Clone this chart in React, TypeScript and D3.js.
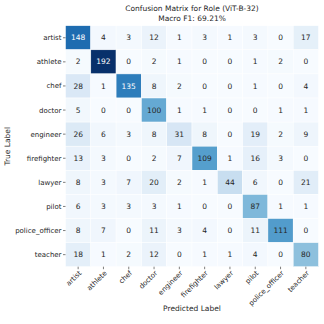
import React from "react";
import * as d3 from "d3";

const labels = ["artist", "athlete", "chef", "doctor", "engineer", "firefighter", "lawyer", "pilot", "police_officer", "teacher"];

const artistRow = [148, 4, 3, 12, 1, 3, 1, 3, 0, 17];
const athleteRow = [2, 192, 0, 2, 1, 0, 0, 1, 2, 0];
const chefRow = [28, 1, 135, 8, 2, 0, 0, 1, 0, 4];
const doctorRow = [5, 0, 0, 100, 1, 1, 0, 0, 1, 1];
const engineerRow = [26, 6, 3, 8, 31, 8, 0, 19, 2, 9];
const firefighterRow = [13, 3, 0, 2, 7, 109, 1, 16, 3, 0];
const lawyerRow = [8, 3, 7, 20, 2, 1, 44, 6, 0, 21];
const pilotRow = [6, 3, 3, 3, 1, 0, 0, 87, 1, 1];
const policeRow = [8, 7, 0, 11, 3, 4, 0, 11, 111, 0];
const teacherRow = [18, 1, 2, 12, 0, 1, 1, 4, 0, 80];

const matrix = [artistRow, athleteRow, chefRow, doctorRow, engineerRow, firefighterRow, lawyerRow, pilotRow, policeRow, teacherRow];

const W = 324;
const H = 324;
const left = 65.5, right = 318.5, top = 25.7, bottom = 266.7;
const font = "'DejaVu Sans', sans-serif";

export default function App() {
  const x = d3.scaleBand<string>().domain(labels).range([left, right]);
  const y = d3.scaleBand<string>().domain(labels).range([top, bottom]);
  const maxV = d3.max(matrix.flat()) ?? 1;
  const color = d3.scaleSequential(d3.interpolateBlues).domain([0, maxV]);
  const cx = (left + right) / 2;

  const cells = [];
  matrix.forEach((row, i) => {
    row.forEach((v, j) => {
      const fill = color(v);
      const c = d3.hsl(fill);
      const dark = c.l < 0.5;
      cells.push(
        <g key={`${i}-${j}`}>
          <rect x={x(labels[j])} y={y(labels[i])} width={x.bandwidth()} height={y.bandwidth()} fill={fill} stroke="#fff" strokeWidth={0.5} />
          <text x={(x(labels[j]) ?? 0) + x.bandwidth() / 2} y={(y(labels[i]) ?? 0) + y.bandwidth() / 2} dy="0.35em" textAnchor="middle" fontSize={7.5} fill={dark ? "#fff" : "#262626"}>{v}</text>
        </g>
      );
    });
  });

  return (
    <svg width={W} height={H} style={{ position: "absolute", left: 0, top: 0, background: "#fff" }} fontFamily={font}>
      <text x={cx} y={11} textAnchor="middle" fontSize={7.5} fill="#262626">Confusion Matrix for Role (ViT-B-32)</text>
      <text x={cx} y={20.5} textAnchor="middle" fontSize={7.5} fill="#262626">Macro F1: 69.21%</text>
      {cells}
      {labels.map(l => {
        const yy = (y(l) ?? 0) + y.bandwidth() / 2;
        return (
          <g key={"r" + l}>
            <line x1={left - 2.5} x2={left} y1={yy} y2={yy} stroke="#262626" strokeWidth={0.6} />
            <text x={left - 4} y={yy} dy="0.35em" textAnchor="end" fontSize={7} fill="#262626">{l}</text>
          </g>
        );
      })}
      {labels.map(l => {
        const xx = (x(l) ?? 0) + x.bandwidth() / 2;
        return (
          <g key={"c" + l}>
            <line x1={xx} x2={xx} y1={bottom} y2={bottom + 2.5} stroke="#262626" strokeWidth={0.6} />
            <text transform={`translate(${xx + 2},${bottom + 5}) rotate(-45)`} dy="0.35em" textAnchor="end" fontSize={7} fill="#262626">{l}</text>
          </g>
        );
      })}
      <text x={cx} y={311} textAnchor="middle" fontSize={7.5} fill="#262626">Predicted Label</text>
      <text transform={`translate(10,${(top + bottom) / 2}) rotate(-90)`} textAnchor="middle" fontSize={7.5} fill="#262626">True Label</text>
    </svg>
  );
}
